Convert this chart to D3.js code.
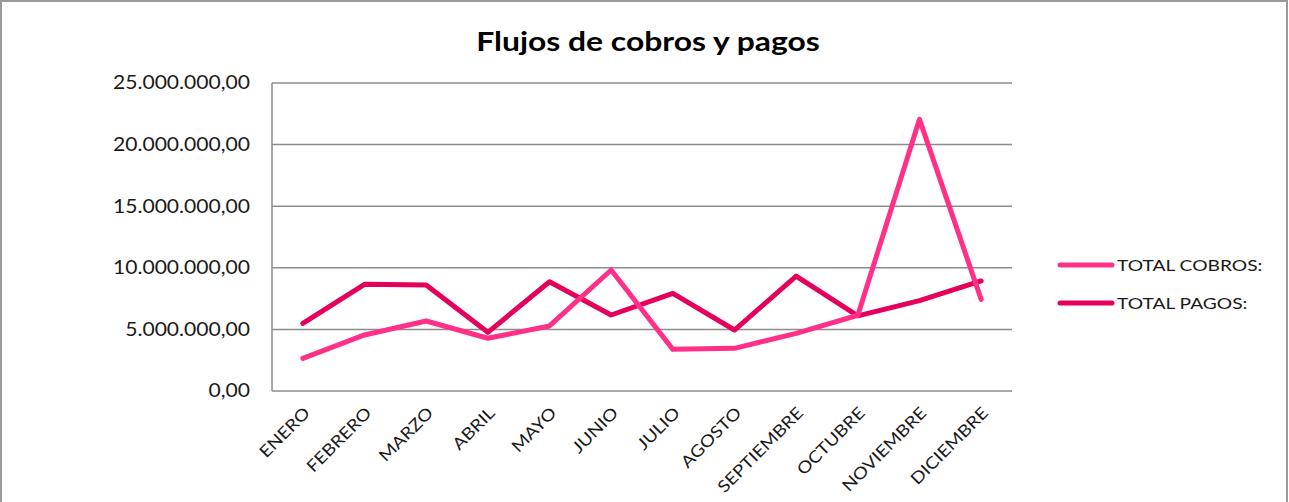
<!DOCTYPE html>
<html lang="es">
<head>
    <title>Flujos de cobros y pagos</title>
    <script src="https://d3js.org/d3.v7.min.js"></script>
    <style>
        body { margin: 0; background: #fff; }
        svg { display: block; font-family: Lato, "Open Sans", sans-serif; }
        .grid line { stroke: #8c8c8c; stroke-width: 1.5; }
        .series { fill: none; stroke-width: 5; stroke-linejoin: round; stroke-linecap: round; }
    </style>
</head>
<body>
    <div id="chart"></div>

    <script>
        var width = 1289;
        var height = 502;
        var margins = { left: 272, right: 277, top: 83, bottom: 111 };

        var months = ["ENERO", "FEBRERO", "MARZO", "ABRIL", "MAYO", "JUNIO", "JULIO",
            "AGOSTO", "SEPTIEMBRE", "OCTUBRE", "NOVIEMBRE", "DICIEMBRE"];
        var totalCobros = [2650000, 4550000, 5680000, 4280000, 5280000, 9820000,
            3380000, 3460000, 4680000, 6150000, 22050000, 7440000];
        var totalPagos = [5490000, 8660000, 8600000, 4760000, 8870000, 6170000,
            7930000, 4950000, 9330000, 6100000, 7330000, 8930000];
        var yTicks = [0, 5000000, 10000000, 15000000, 20000000, 25000000];
        var seriesNames = ["TOTAL COBROS:", "TOTAL PAGOS:"];
        var seriesColors = ["#ff3087", "#e5005b"];

        var es = d3.formatLocale({ decimal: ",", thousands: ".", grouping: [3], currency: ["", " €"] });
        var fmt = es.format(",.2f");

        var svg = d3.select("#chart").append("svg")
            .attr("width", width)
            .attr("height", height);

        svg.append("rect")
            .attr("x", 1).attr("y", 1)
            .attr("width", width - 3).attr("height", height + 10)
            .attr("fill", "#fff").attr("stroke", "#9a9a9a").attr("stroke-width", 2);

        var innerW = width - margins.left - margins.right;
        var innerH = height - margins.top - margins.bottom;

        var xscale = d3.scaleBand().domain(months).range([0, innerW]);
        var yscale = d3.scaleLinear().domain([0, 25000000]).range([innerH, 0]);

        var g = svg.append("g")
            .attr("transform", "translate(" + margins.left + "," + margins.top + ")");

        // grid lines
        g.append("g").attr("class", "grid")
            .selectAll("line").data(yTicks).enter().append("line")
            .attr("x1", 0).attr("x2", innerW)
            .attr("y1", function (d) { return yscale(d); })
            .attr("y2", function (d) { return yscale(d); });
        g.append("line")
            .attr("x1", 0).attr("x2", 0).attr("y1", 0).attr("y2", innerH)
            .attr("stroke", "#8c8c8c").attr("stroke-width", 1.5);

        // y labels (text in the original is a bit wider than Lato, hence scaleX)
        g.selectAll(".ylab").data(yTicks).enter().append("text")
            .attr("class", "ylab")
            .attr("transform", function (d) { return "translate(-22," + yscale(d) + ") scale(1.14,1)"; })
            .attr("dy", "0.35em")
            .attr("text-anchor", "end")
            .attr("font-size", 18.5)
            .attr("fill", "#1a1a1a")
            .text(function (d) { return fmt(d); });

        // x labels
        g.selectAll(".xlab").data(months).enter().append("text")
            .attr("class", "xlab")
            .attr("transform", function (d) {
                return "translate(" + (xscale(d) + xscale.bandwidth() / 2 + 4) + "," + (innerH + 19) + ") rotate(-45) scale(1.15,1)";
            })
            .attr("text-anchor", "end")
            .attr("dy", "0.35em")
            .attr("font-size", 16.5)
            .attr("fill", "#1a1a1a")
            .text(function (d) { return d; });

        var line = d3.line()
            .x(function (d, i) { return xscale(months[i]) + xscale.bandwidth() / 2; })
            .y(function (d) { return yscale(d); });

        [totalPagos, totalCobros].forEach(function (s, k) {
            var idx = k === 0 ? 1 : 0;
            g.append("path")
                .datum(s)
                .attr("class", "series")
                .attr("stroke", seriesColors[idx])
                .attr("d", line);
        });

        // title
        svg.append("text")
            .attr("transform", "translate(648,51) scale(1.18,1)")
            .attr("text-anchor", "middle")
            .attr("font-size", 27)
            .attr("font-weight", "bold")
            .attr("fill", "#000")
            .text("Flujos de cobros y pagos");

        // legend
        var legend = svg.append("g").attr("transform", "translate(1060,265)");
        seriesNames.forEach(function (name, i) {
            legend.append("line")
                .attr("x1", 0).attr("x2", 52)
                .attr("y1", i * 38).attr("y2", i * 38)
                .attr("stroke", seriesColors[i])
                .attr("stroke-width", 5)
                .attr("stroke-linecap", "round");
            legend.append("text")
                .attr("transform", "translate(57," + (i * 38) + ") scale(1.2,1)")
                .attr("dy", "0.35em")
                .attr("font-size", 16)
                .attr("fill", "#1a1a1a")
                .text(name);
        });
    </script>
</body>
</html>
